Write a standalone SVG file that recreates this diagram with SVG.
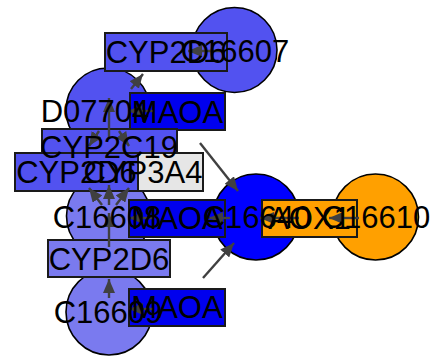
<svg xmlns="http://www.w3.org/2000/svg" width="438" height="361" viewBox="0 0 438 361">
<style>
  .cmp { stroke: #000; stroke-width: 1.6; }
  .enz { stroke: #1a1a1a; stroke-width: 2; }
  .mid { fill: #5252f0; }
  .light { fill: #7a7aef; }
  .maoa { fill: #0000ee; }
  .strong { fill: #0000ff; }
  .orange { fill: #ffa000; }
  .grey { fill: #e6e6e6; }
  .edge { stroke: #404040; stroke-width: 2.4; fill: none; marker-end: url(#arrow); }
  text { font-family: "Liberation Sans", Arial, sans-serif; font-size: 31px; fill: #000; text-anchor: middle; }
</style>
<defs>
  <marker id="arrow" viewBox="0 0 14 12" refX="14" refY="6" markerWidth="14" markerHeight="12" markerUnits="userSpaceOnUse" orient="auto">
    <path d="M0,0 L14,6 L0,12 z" fill="#404040"/>
  </marker>
</defs>
<rect width="438" height="361" fill="#fff"/>
<g id="nodes">
  <g id="node-C16607"><circle class="cmp mid" cx="234.5" cy="50" r="42.5"/></g>
  <g id="node-D07704"><circle class="cmp mid" cx="108" cy="110" r="42"/></g>
  <g id="node-C16608"><circle class="cmp light" cx="108.5" cy="216" r="42"/></g>
  <g id="node-C16609"><circle class="cmp light" cx="109" cy="312" r="43"/></g>
  <g id="node-C16640"><circle class="cmp strong" cx="256" cy="217" r="43"/></g>
  <g id="node-C16610"><circle class="cmp orange" cx="375.5" cy="217" r="43"/></g>
  <g id="node-CYP2D6-top"><rect class="enz mid" x="105" y="33" width="122" height="38"/></g>
  <g id="node-MAOA-top"><rect class="enz maoa" x="130" y="93" width="95" height="37"/></g>
  <g id="node-CYP2C19"><rect class="enz mid" x="42" y="129" width="135" height="37"/></g>
  <g id="node-CYP3A4"><rect class="enz grey" x="83" y="153" width="120" height="38"/></g>
  <g id="node-CYP2D6-left"><rect class="enz mid" x="15" y="153" width="123" height="38"/></g>
  <g id="node-MAOA-mid"><rect class="enz maoa" x="129" y="200" width="96" height="37"/></g>
  <g id="node-CYP2D6-bottom"><rect class="enz light" x="48" y="240" width="122" height="37"/></g>
  <g id="node-MAOA-bottom"><rect class="enz maoa" x="129" y="289" width="96" height="37"/></g>
  <g id="node-AOX1"><rect class="enz orange" x="262" y="200" width="95" height="37"/></g>
</g>
<g id="connectors">
  <line class="edge" x1="225" y1="51" x2="188" y2="51"/>
  <line class="edge" x1="131" y1="89" x2="143" y2="74"/>
  <line class="edge" x1="153" y1="111" x2="128" y2="111"/>
  <line class="edge" x1="109" y1="138" x2="109" y2="98"/>
  <line class="edge" x1="99" y1="131" x2="89" y2="146"/>
  <line class="edge" x1="119" y1="131" x2="129" y2="146"/>
  <line class="edge" x1="102" y1="205" x2="89" y2="188"/>
  <line class="edge" x1="109" y1="205" x2="109" y2="185"/>
  <line class="edge" x1="116" y1="205" x2="129" y2="188"/>
  <line class="edge" x1="154" y1="218" x2="129" y2="218"/>
  <line class="edge" x1="109" y1="247" x2="109" y2="213"/>
  <line class="edge" x1="109" y1="298" x2="109" y2="279"/>
  <line class="edge" x1="153" y1="309" x2="129" y2="309"/>
  <line class="edge" x1="200" y1="143" x2="238" y2="191"/>
  <line class="edge" x1="203" y1="278" x2="234" y2="243"/>
  <line class="edge" x1="230" y1="218" x2="209" y2="218"/>
  <line class="edge" x1="299" y1="218" x2="260" y2="218"/>
  <line class="edge" x1="359" y1="218" x2="329" y2="218"/>
</g>
<g id="labels">
  <text id="label-C16607" x="235" y="62">C16607</text>
  <text id="label-D07704" x="95" y="122">D07704</text>
  <text id="label-C16608" x="107" y="228">C16608</text>
  <text id="label-C16609" x="108" y="323">C16609</text>
  <text id="label-C16640" x="257" y="228">C16640</text>
  <text id="label-C16610" x="376" y="228">C16610</text>
  <text id="label-CYP2D6-top" x="166" y="62.5">CYP2D6</text>
  <text id="label-MAOA-top" x="177.5" y="122.5">MAOA</text>
  <text id="label-CYP2C19" x="109" y="158">CYP2C19</text>
  <text id="label-CYP3A4" x="143" y="183">CYP3A4</text>
  <text id="label-CYP2D6-left" x="76.5" y="183">CYP2D6</text>
  <text id="label-MAOA-mid" x="177" y="229">MAOA</text>
  <text id="label-CYP2D6-bottom" x="109" y="269.5">CYP2D6</text>
  <text id="label-MAOA-bottom" x="177" y="318">MAOA</text>
  <text id="label-AOX1" x="309.5" y="229">AOX1</text>
</g>
</svg>
